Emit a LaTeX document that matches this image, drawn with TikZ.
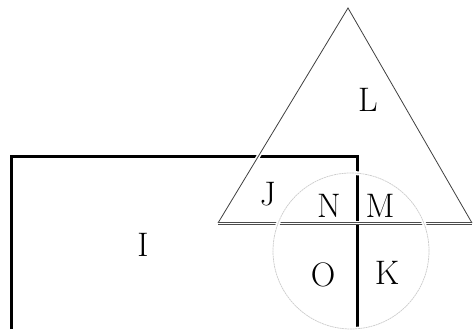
\documentclass[tikz,border=0pt]{standalone}
\usepackage{fontspec}
\begin{document}
\begin{tikzpicture}[x=1pt,y=1pt,
  lbl/.style={font=\fontsize{34}{37}\selectfont, inner sep=0pt, anchor=center},
  rectline/.style={line width=3pt, black},
  halo/.style={white, line width=4pt},
  triline/.style={line width=0.8pt, draw=black!75},
  tribase/.style={line width=0.6pt, draw=black!70},
  circline/.style={line width=0.7pt, draw=black!20, dash pattern=on 2pt off 0.6pt}]
\useasboundingbox (0,0) rectangle (473,329);
% rectangle (open at the bottom)
\draw[rectline] (11.5,0) -- (11.5,172) -- (357.5,172) -- (357.5,2);
% triangle
\draw[halo] (218,106) -- (348,321) -- (472,106);
\draw[halo] (218,106) -- (472,106);
\draw[triline] (218,106) -- (348,321) -- (472,106);
\draw[tribase] (218,105) -- (472,105);
\draw[tribase] (218,107) -- (472,107);
% circle
\draw[white, line width=4pt] (351,78) circle[radius=78];
\draw[circline] (351,78) circle[radius=78];
% labels
\node[lbl] (L) at (368,229) {L};
\node[lbl] (J) at (268,135) {J};
\node[lbl] (N) at (329,123) {N};
\node[lbl] (M) at (380,123) {M};
\node[lbl] (O) at (323,54) {O};
\node[lbl] (K) at (387,56) {K};
\node[lbl] (I) at (143,84) {I};
\end{tikzpicture}
\end{document}
